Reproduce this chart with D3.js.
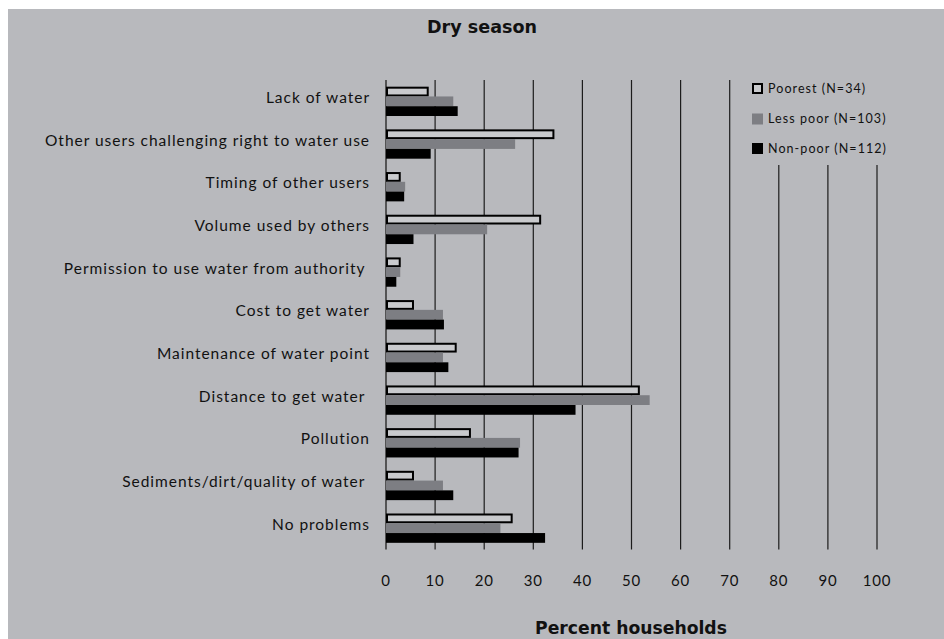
<!DOCTYPE html>
<html>
<head>
<meta charset="utf-8">
<script src="https://cdn.jsdelivr.net/npm/d3@7"></script>
<style>
  html, body { margin: 0; padding: 0; background: #ffffff; }
  svg { display: block; }
  text { font-family: Lato, "Open Sans", sans-serif; fill: #111; }
  text.ttl { font-family: "DejaVu Sans", Lato, sans-serif; }
</style>
</head>
<body>
<svg id="chart" width="944" height="639"></svg>
<script>
const categories = [
  "Lack of water",
  "Other users challenging right to water use",
  "Timing of other users",
  "Volume used by others",
  "Permission to use water from authority ",
  "Cost to get water",
  "Maintenance of water point",
  "Distance to get water ",
  "Pollution",
  "Sediments/dirt/quality of water ",
  "No problems"
];
const seriesNames = ["Poorest (N=34)", "Less poor (N=103)", "Non-poor (N=112)"];
const poorest  = [8.7, 34.3, 3.0, 31.6, 3.0, 5.7, 14.4, 51.7, 17.3, 5.7, 25.8];
const lessPoor = [13.7, 26.3, 3.9, 20.6, 2.9, 11.6, 11.6, 53.7, 27.3, 11.6, 23.3];
const nonPoor  = [14.6, 9.1, 3.7, 5.6, 2.1, 11.8, 12.7, 38.6, 27.0, 13.7, 32.4];
const xTicks = [0, 10, 20, 30, 40, 50, 60, 70, 80, 90, 100];
const title = "Dry season";
const xTitle = "Percent households";

const series = [poorest, lessPoor, nonPoor];
const fills = ["#c9cacd", "#7d7e83", "#000000"];

const svg = d3.select("#chart");
svg.append("rect").attr("x", 8).attr("y", 9).attr("width", 936).attr("height", 630).attr("fill", "#b8b9bd");

const plot = { left: 386, right: 877, top: 80, bottom: 549.5 };

const x = d3.scaleLinear().domain([0, 100]).range([plot.left, plot.right]);
const y = d3.scaleBand().domain(categories).range([plot.top, plot.bottom]).paddingInner(0.313).paddingOuter(0.1565);
const ySub = d3.scaleBand().domain(d3.range(series.length)).range([0, y.bandwidth()]);

function measure(str, size, weight, cls) {
  const t = svg.append("text").attr("class", cls || null).attr("font-size", size).attr("font-weight", weight).text(str.trimEnd());
  const w = t.node().getComputedTextLength();
  t.remove();
  return w;
}
// letter-spacing so a reference string reaches a target width
function spacingFor(str, size, weight, target) {
  const w = measure(str, size, weight);
  return Math.max(0, (target - w) / str.trimEnd().length);
}
// font size so a reference string reaches a target width
function sizeFor(str, weight, target, cls) {
  const w = measure(str, 16, weight, cls);
  return 16 * target / w;
}

// gridlines
const legendBottom = 165;
svg.append("g").selectAll("line").data(xTicks).join("line")
  .attr("x1", d => x(d)).attr("x2", d => x(d))
  .attr("y1", d => d >= 80 ? legendBottom : plot.top)
  .attr("y2", plot.bottom)
  .attr("stroke", d => d === 0 ? "#3a3a3a" : "#1c1c1c")
  .attr("stroke-width", d => d === 0 ? 1.6 : 1.2);

// bars
const gBars = svg.append("g");
series.forEach((vals, si) => {
  const sel = gBars.append("g").selectAll("rect").data(vals).join("rect")
    .attr("fill", fills[si]);
  if (si === 0) {
    sel.attr("x", x(0) + 1)
      .attr("y", (d, i) => y(categories[i]) + ySub(si) + 1)
      .attr("width", d => x(d) - x(0) - 2)
      .attr("height", ySub.bandwidth() - 2)
      .attr("stroke", "#000").attr("stroke-width", 2);
  } else {
    sel.attr("x", x(0))
      .attr("y", (d, i) => y(categories[i]) + ySub(si))
      .attr("width", d => x(d) - x(0))
      .attr("height", ySub.bandwidth());
  }
});

// category labels
const labSize = 15.5;
const labLS = spacingFor(categories[1], labSize, "normal", 325);
svg.append("g").selectAll("text").data(categories).join("text")
  .attr("x", 370)
  .attr("y", d => y(d) + y.bandwidth() / 2 + 1.5)
  .attr("text-anchor", "end")
  .style("white-space", "pre")
  .style("letter-spacing", labLS + "px")
  .attr("font-size", labSize)
  .text(d => d);

// tick labels
svg.append("g").selectAll("text").data(xTicks).join("text")
  .attr("x", d => x(d))
  .attr("y", 585.5)
  .attr("text-anchor", "middle")
  .attr("font-size", 15)
  .style("letter-spacing", "0.8px")
  .text(d => d);

// titles
const tSize = sizeFor(title, "bold", 110, "ttl");
svg.append("text").attr("class", "ttl").attr("x", 482).attr("y", 33).attr("text-anchor", "middle")
  .attr("font-size", tSize).attr("font-weight", "bold").text(title);
const xtSize = sizeFor(xTitle, "bold", 192, "ttl");
svg.append("text").attr("class", "ttl").attr("x", 631).attr("y", 634).attr("text-anchor", "middle")
  .attr("font-size", xtSize).attr("font-weight", "bold").text(xTitle);

// legend
const legY = [88.5, 119, 148.5];
const legLS = spacingFor(seriesNames[2], 12.5, "normal", 119);
const leg = svg.append("g");
seriesNames.forEach((name, i) => {
  if (i === 0) {
    leg.append("rect").attr("x", 753).attr("y", legY[i] - 4.5).attr("width", 9).attr("height", 9)
      .attr("fill", fills[i]).attr("stroke", "#000").attr("stroke-width", 2);
  } else {
    leg.append("rect").attr("x", 752).attr("y", legY[i] - 5.5).attr("width", 11).attr("height", 11)
      .attr("fill", fills[i]);
  }
  leg.append("text").attr("x", 768).attr("y", legY[i] + 4).attr("font-size", 12.5)
    .style("letter-spacing", legLS + "px").text(name);
});
</script>
</body>
</html>
